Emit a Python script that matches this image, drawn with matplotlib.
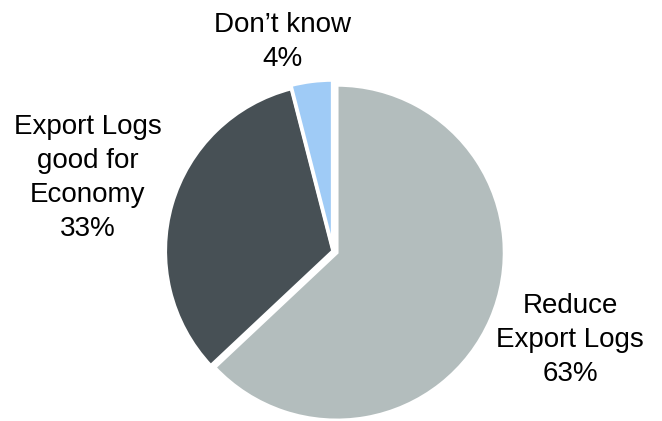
import matplotlib.pyplot as plt

labels = ["Reduce\nExport Logs\n63%", "Export Logs\ngood for\nEconomy\n33%", "Don\u2019t know\n4%"]
values = [63, 33, 4]
colors = ["#b3bdbd", "#475055", "#9fcbf6"]

plt.rcParams['font.family'] = ['Liberation Sans', 'DejaVu Sans']

fig = plt.figure(figsize=(6.62, 4.21), dpi=100)
ax = fig.add_axes([0, 0, 1, 1])

ax.pie(values, colors=colors, startangle=90, counterclock=False,
       explode=[0.025, 0, 0.02], radius=1.01,
       wedgeprops=dict(edgecolor="white", linewidth=2.5))

# label positions (data units, radius 1 = 166 px)
pos = [(1.428, -0.536), (-1.476, 0.44), (-0.307, 1.262)]
for lab, (x, y) in zip(labels, pos):
    ax.text(x, y, lab, ha="center", va="center", fontsize=20, linespacing=1.4, color="black")

ax.set_xlim(-333 / 166, (662 - 333) / 166)
ax.set_ylim(-170 / 166, 251 / 166)
ax.set_aspect("equal")
ax.axis("off")

fig.savefig("out.png", dpi=100)
